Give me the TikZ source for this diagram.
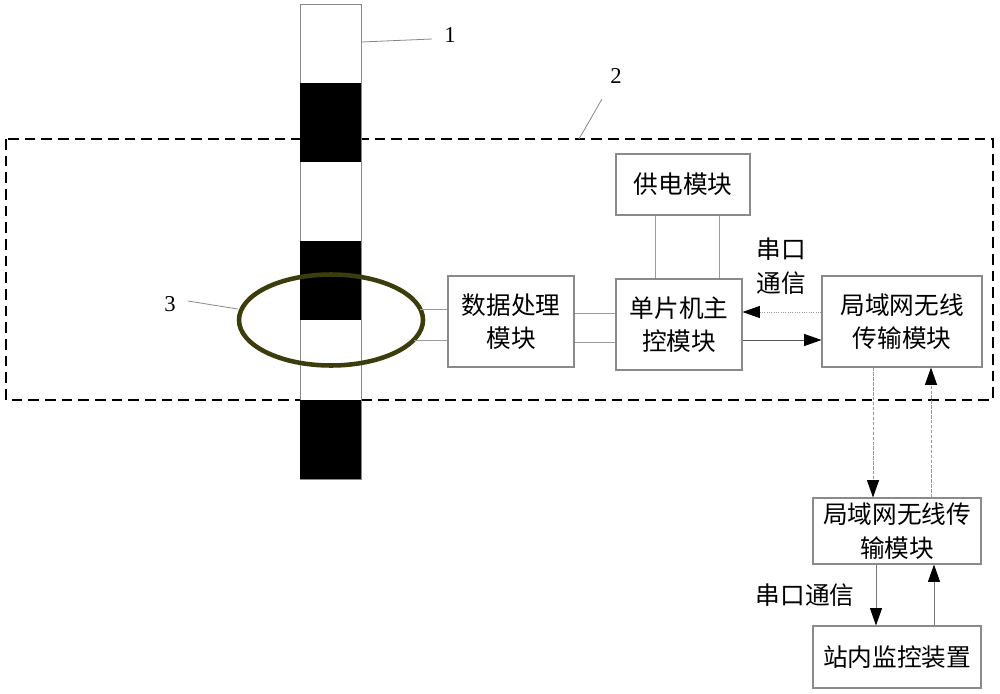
\documentclass[tikz,border=0pt]{standalone}
\usepackage{fontspec}
\setmainfont{Liberation Serif}
\newfontfamily\cjk{Noto Sans CJK SC}
\usetikzlibrary{arrows.meta,shapes.geometric,calc}
\definecolor{boxgray}{HTML}{8A8A8A}
\definecolor{linegray}{HTML}{9A9A9A}
\definecolor{darkline}{HTML}{555555}
\definecolor{ringcol}{HTML}{3C3C0C}
\def\px{0.75pt}
\begin{document}
\begin{tikzpicture}[x=0.75pt,y=-0.75pt,
  box/.style={draw=boxgray, line width=0.8pt, fill=white, inner sep=0pt, align=center,
              font=\cjk\fontsize{18.5}{25}\selectfont},
  lbl/.style={inner sep=0pt, align=center, font=\cjk\fontsize{18.5}{25}\selectfont},
  num/.style={inner sep=0pt, font=\fontsize{17}{19}\selectfont},
  conn/.style={draw=linegray, line width=0.75pt},
  lead/.style={draw=darkline!70, line width=0.6pt},
  tip/.style={-{Triangle[length=13pt,width=9pt,color=black]}},
  frame/.style={draw=black, line width=1.6pt, dash pattern=on 8pt off 4.5pt}
]
\useasboundingbox (0,0) rectangle (1000,693);
\fill[white] (0,0) rectangle (1000,693);

% dashed frame
\draw[frame] (6,139) rectangle (993,400);

% pole
\node[draw=boxgray, fill=white, line width=0.6pt, minimum width=61*\px, minimum height=475*\px, inner sep=0pt] (pole) at (330.5,241.5) {};
\fill[black] (300,83) rectangle (361,162);
\fill[black] (300,241) rectangle (361,320);
\fill[black] (300,400) rectangle (361,479);

% ring
\node[draw=ringcol, ellipse, line width=3.4pt, minimum width=184*\px, minimum height=91*\px, inner sep=0pt] (ell) at (331,320) {};

% boxes
\node[box, minimum width=126*\px, minimum height=91*\px] (dp) at (511,321.5) {数据处理\\模块};
\node[box, minimum width=126*\px, minimum height=91*\px] (mcu) at (679,324.5) {单片机主\\控模块};
\node[box, minimum width=134*\px, minimum height=61*\px] (pw) at (683,184.5) {供电模块};
\node[box, minimum width=160*\px, minimum height=91*\px] (lan1) at (902,321.5) {局域网无线\\传输模块};
\node[box, minimum width=168*\px, minimum height=66*\px] (lan2) at (897,531) {局域网无线传\\输模块};
\node[box, minimum width=168*\px, minimum height=62*\px] (mon) at (897,657) {站内监控装置};

% text labels
\node[lbl] (c1) at (781,266) {串口\\通信};
\node[lbl] (c2) at (805,595) {串口通信};

% number labels
\node[num] (n1) at (450,35) {1};
\node[num] (n2) at (616,76) {2};
\node[num] (n3) at (170,304) {3};
\coordinate (e1) at (432,39);
\coordinate (e2) at (602,99);
\coordinate (f2) at (579,139);
\coordinate (e3) at (188,301);
\draw[lead] (pole.east|-0,42) -- (e1);
\draw[lead] (e2) -- (f2);
\draw[lead] (e3) -- ($(ell.west)+(1,-11)$);

% connectors ring -> data processing
\draw[conn] ($(ell.center)+(89,-11)$) -- (dp.west|-0,309);
\draw[conn] ($(ell.center)+(83,20)$) -- (dp.west|-0,340);

% data processing -> mcu
\draw[conn] (dp.east|-0,313) -- (mcu.west|-0,313);
\draw[conn] (dp.east|-0,342) -- (mcu.west|-0,342);

% power -> mcu
\draw[conn] (pw.south-|655,0) -- (mcu.north-|655,0);
\draw[conn] (pw.south-|719,0) -- (mcu.north-|719,0);

% mcu <-> lan1
\draw[conn, densely dotted, tip] (lan1.west|-0,312) -- (mcu.east|-0,312);
\draw[conn, draw=darkline, tip] (mcu.east|-0,340) -- (lan1.west|-0,340);

% lan1 <-> lan2 (wireless)
\draw[conn, dash pattern=on 2.5pt off 1.2pt, tip] (lan1.south-|873,0) -- (lan2.north-|873,0);
\draw[conn, dash pattern=on 2.5pt off 1.2pt, tip] (lan2.north-|931,0) -- (lan1.south-|931,0);

% lan2 <-> monitor
\draw[conn, draw=darkline!80, tip] (lan2.south-|876,0) -- (mon.north-|876,0);
\draw[conn, draw=darkline!80, tip] (mon.north-|934,0) -- (lan2.south-|934,0);
\end{tikzpicture}
\end{document}
